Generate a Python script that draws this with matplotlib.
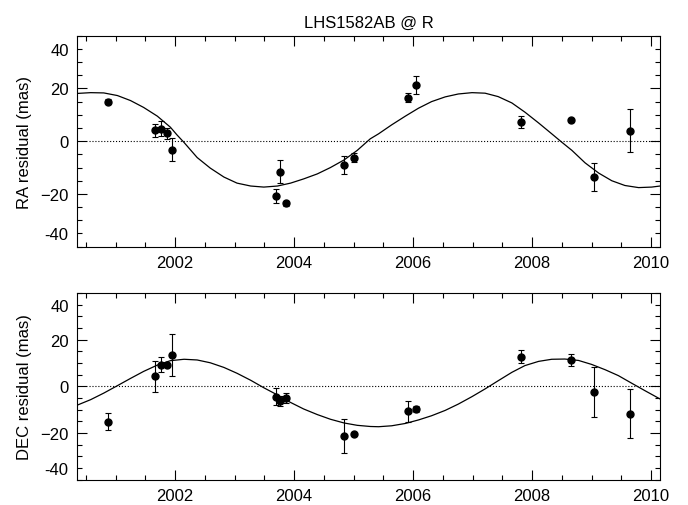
import numpy as np
import matplotlib
matplotlib.use('Agg')
from matplotlib import pyplot as plt
from matplotlib.ticker import MultipleLocator

# --- epoche delle osservazioni (anno decimale) ---
epoch = [2000.87, 2001.66, 2001.76, 2001.87, 2001.95, 2003.69, 2003.77, 2003.86,
         2004.84, 2005.00, 2005.91, 2006.05, 2007.82, 2008.65, 2009.04, 2009.65]

# residui astrometrici in mas
ra_res = [15.0, 4.2, 4.8, 3.0, -3.3, -20.7, -11.6, -23.6,
          -9.0, -6.3, 16.5, 21.3, 7.3, 7.9, -13.5, 4.0]
ra_err = [1.0, 2.5, 3.0, 2.0, 4.4, 2.6, 4.3, 0.95,
          3.5, 1.7, 1.6, 3.5, 2.3, 0.5, 5.2, 8.1]

dec_res = [-15.2, 4.3, 9.3, 9.3, 13.4, -4.4, -6.3, -5.1,
           -21.2, -20.6, -10.7, -9.7, 12.7, 11.3, -2.3, -11.7]
dec_err = [3.6, 6.6, 3.3, 0.6, 8.9, 3.6, 2.0, 2.1,
           7.4, 0.6, 4.4, 1.4, 2.9, 2.7, 10.7, 10.6]

# --- modello orbitale (perturbazione fotocentrica) ---
ra_model_t = [2000.35, 2000.58, 2000.80, 2001.03, 2001.25, 2001.47, 2001.70, 2001.92,
              2002.03, 2002.15, 2002.37, 2002.59, 2002.82, 2003.04, 2003.27, 2003.49,
              2003.72, 2003.94, 2004.16, 2004.39, 2004.61, 2004.84, 2005.06, 2005.28,
              2005.42, 2005.64, 2005.87, 2006.09, 2006.31, 2006.54, 2006.76, 2006.99,
              2007.21, 2007.43, 2007.66, 2007.88, 2008.11, 2008.33, 2008.50, 2008.67,
              2008.89, 2009.12, 2009.34, 2009.56, 2009.79, 2010.01, 2010.15]
ra_model = [18.1, 18.4, 18.3, 17.3, 15.4, 12.8, 9.5, 5.3,
            2.4, -0.5, -6.2, -10.2, -13.6, -15.9, -17.0, -17.4,
            -17.0, -15.9, -14.3, -12.4, -10.0, -7.1, -3.5, 0.9,
            2.8, 6.2, 9.5, 12.5, 15.0, 16.8, 17.9, 18.4,
            18.2, 16.9, 14.5, 11.0, 6.9, 2.8, -0.4, -3.5,
            -8.2, -12.1, -15.0, -16.8, -17.6, -17.4, -17.0]

dec_model_t = [2000.35, 2000.58, 2000.80, 2001.03, 2001.25, 2001.47, 2001.70, 2001.92,
               2002.15, 2002.37, 2002.59, 2002.82, 2003.04, 2003.27, 2003.49, 2003.72,
               2003.94, 2004.16, 2004.39, 2004.61, 2004.84, 2005.06, 2005.28, 2005.42,
               2005.64, 2005.87, 2006.09, 2006.31, 2006.54, 2006.76, 2006.99, 2007.21,
               2007.43, 2007.66, 2007.88, 2008.11, 2008.33, 2008.55, 2008.78, 2009.00,
               2009.23, 2009.45, 2009.67, 2009.90, 2010.15]
dec_model = [-8.1, -5.7, -2.9, 0.3, 3.4, 6.4, 9.1, 11.0,
             11.6, 11.3, 10.1, 8.1, 5.6, 2.6, -0.6, -3.7,
             -6.9, -9.7, -12.1, -14.1, -15.7, -16.7, -17.2, -17.3,
             -16.9, -15.9, -14.4, -12.6, -10.3, -7.6, -4.4, -1.1,
             2.4, 6.0, 8.9, 10.7, 11.6, 11.7, 11.1, 9.4,
             7.1, 4.6, 1.4, -1.9, -5.4]

# etichette dell'asse y (quelle esterne stanno sul tick a +/-35)
y_major = [-20, 0, 20]
y_minor = [-40, -35, -30, -25, -15, -10, -5, 5, 10, 15, 25, 30, 35, 40]
y_minor_labels = ['', '-40', '', '', '', '', '', '', '', '', '', '', '40', '']

XLIM = (2000.35, 2010.15)
YLIM = (-40, 40)
ZERO_START = 2000.55


def residual_panel(ax, t, res, err, mt, model, ylabel):
    ax.plot(mt, model, color='k', lw=0.9)
    ax.hlines(0, ZERO_START, XLIM[1], colors='k', linestyles=':', lw=0.8)
    ax.errorbar(t, res, yerr=err, fmt='o', color='k', ms=5,
                elinewidth=0.8, capsize=2.3, capthick=0.8)

    ax.set_xlim(*XLIM)
    ax.set_ylim(*YLIM)
    ax.xaxis.set_major_locator(MultipleLocator(2))
    ax.xaxis.set_minor_locator(MultipleLocator(0.5))
    ax.set_yticks(y_major)
    ax.set_yticks(y_minor, labels=y_minor_labels, minor=True)

    ax.tick_params(which='both', direction='in', top=True, right=True,
                   labelsize=12, pad=6, width=0.8, color='k')
    ax.tick_params(which='major', length=7.5)
    ax.tick_params(which='minor', length=3.6)
    for s in ax.spines.values():
        s.set_linewidth(0.8)

    ax.set_ylabel(ylabel, fontsize=12)
    ax.yaxis.set_label_coords(-0.077, 0.5)


def main():
    plt.rcParams['font.family'] = ['Liberation Sans', 'DejaVu Sans']

    fig = plt.figure(figsize=(6.88, 5.06), dpi=100)
    ax1 = fig.add_axes([0.1119, 0.5105, 0.8474, 0.417])
    ax2 = fig.add_axes([0.1119, 0.05, 0.8474, 0.369])

    residual_panel(ax1, epoch, ra_res, ra_err, ra_model_t, ra_model, 'RA residual (mas)')
    residual_panel(ax2, epoch, dec_res, dec_err, dec_model_t, dec_model, 'DEC residual (mas)')

    ax1.set_title('LHS1582AB @ R', fontsize=12, pad=6.5)

    fig.savefig('out.png', dpi=100)


if __name__ == '__main__':
    main()
